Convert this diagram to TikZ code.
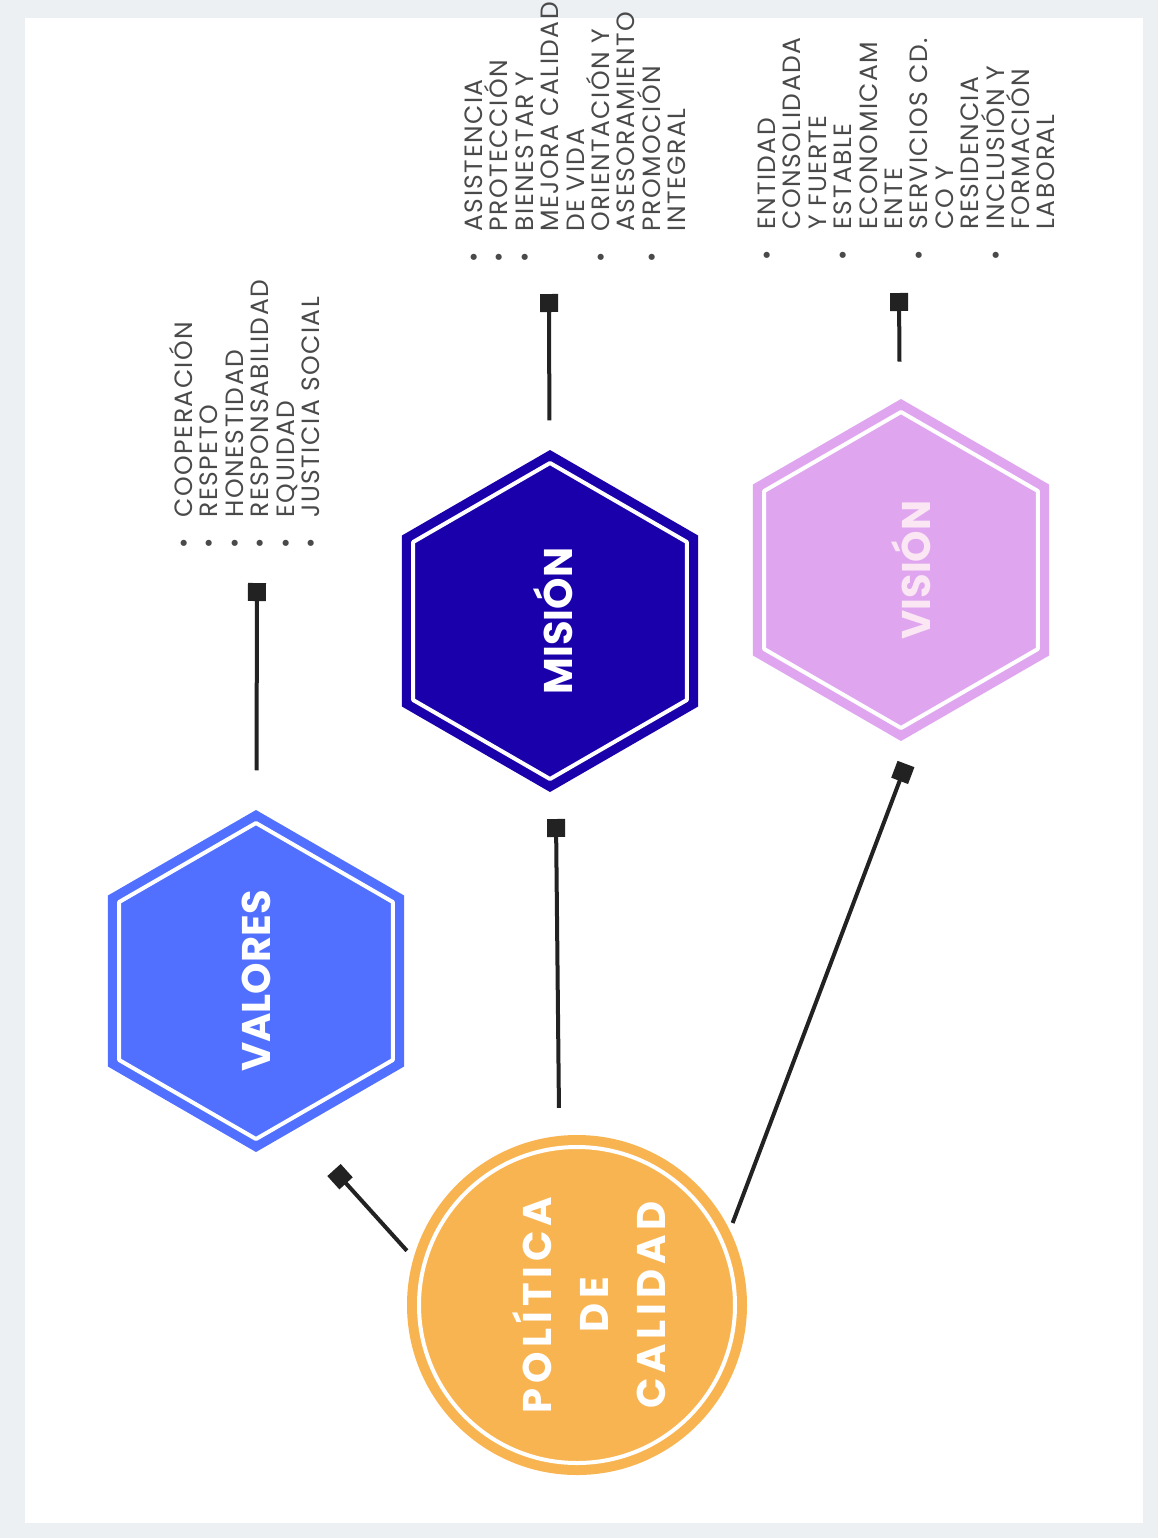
\documentclass[tikz,border=0pt]{standalone}
\usepackage{fontspec}
\setmainfont{Poppins}
\usetikzlibrary{shapes.geometric,arrows.meta}
\definecolor{azul}{HTML}{5170FF}
\definecolor{azuloscuro}{HTML}{1A00AB}
\definecolor{lila}{HTML}{DFA6EF}
\definecolor{rosado}{HTML}{FBE6F4}
\definecolor{naranja}{HTML}{F9B452}
\definecolor{gris}{HTML}{4A4A4A}
\definecolor{linea}{HTML}{222222}
\definecolor{marco}{HTML}{ECF0F3}
\newcommand{\bu}{\makebox[1.25em][l]{\textbullet}}
\newcommand{\nb}{\hspace*{1.25em}}
\newcommand{\alto}{\rule{0pt}{12pt}}
\begin{document}
\begin{tikzpicture}[x=0.5pt,y=-0.5pt,line join=round,
	hexa/.style={regular polygon,regular polygon sides=6,shape border rotate=90,minimum size=171pt,inner sep=0pt,outer sep=0pt},
	borde/.style={regular polygon,regular polygon sides=6,shape border rotate=90,minimum size=158pt,inner sep=0pt,draw=white,line width=2pt},
	titulo/.style={rotate=90,text=white,font=\bfseries\fontsize{20}{28.5}\selectfont,align=center,inner sep=0pt},
	lista/.style={rotate=90,anchor=north west,align=left,inner sep=0pt,text=gris,font=\fontsize{12.5}{12.7}\selectfont\addfontfeatures{LetterSpace=6}},
	conn/.style={draw=linea,line width=2pt,-{Square[length=9pt,width=9pt]}}]
	%Fondo.
	\fill[marco] (0,0) rectangle (1158,1538);
	\fill[white] (25,18) rectangle (1143,1523);
	%Puntos de las conexiones.
	\coordinate (valsq) at (257,583);
	\coordinate (missq) at (549,294);
	\coordinate (vissq) at (899,293);
	\coordinate (pvsq) at (334,1170);
	\coordinate (pmsq) at (556,819);
	\coordinate (pisq) at (906,764);
	%Hexágonos.
	\node[hexa,fill=azul] (val) at (256,981) {};
	\node[borde] at (val) {};
	\node[titulo] at (256,981) {VALORES};
	\node[hexa,fill=azuloscuro] (mis) at (550,621) {};
	\node[borde] at (mis) {};
	\node[titulo] at (553,621) {MISIÓN};
	\node[hexa,fill=lila] (vis) at (901,570) {};
	\node[borde] at (vis) {};
	\node[titulo,text=rosado] at (911,570) {VISIÓN};
	%Círculo central.
	\node[circle,fill=naranja,minimum size=170pt,inner sep=0pt,outer sep=0pt] (pol) at (577,1305) {};
	\node[circle,draw=white,line width=2pt,minimum size=158pt,inner sep=0pt] at (pol) {};
	\node[titulo,font=\bfseries\fontsize{20}{28.5}\selectfont\addfontfeatures{LetterSpace=12}] at (589,1305) {POLÍTICA\\DE\\CALIDAD};
	%Listas.
	\node[lista] (lval) at (168,549) {\alto\bu COOPERACIÓN\\\bu RESPETO\\\bu HONESTIDAD\\\bu RESPONSABILIDAD\\\bu EQUIDAD\\\bu JUSTICIA SOCIAL};
	\node[lista] (lmis) at (458,263) {\alto\bu ASISTENCIA\\\bu PROTECCIÓN\\\bu BIENESTAR Y\\\nb MEJORA CALIDAD\\\nb DE VIDA\\\bu ORIENTACIÓN Y\\\nb ASESORAMIENTO\\\bu PROMOCIÓN\\\nb INTEGRAL};
	\node[lista] (lvis) at (751,261) {\alto\bu ENTIDAD\\\nb CONSOLIDADA\\\nb Y FUERTE\\\bu ESTABLE\\\nb ECONOMICAM\\\nb ENTE\\\bu SERVICIOS CD.\\\nb CO Y\\\nb RESIDENCIA\\\bu INCLUSIÓN Y\\\nb FORMACIÓN\\\nb LABORAL};
	%Conexiones.
	\draw[conn,shorten <=20pt] (val) -- (valsq);
	\draw[conn,shorten <=15pt] (mis) -- (missq);
	\draw[conn,shorten <=19pt] (vis) -- (vissq);
	\draw[conn,shorten <=5pt] (pol.164) -- (pvsq);
	\draw[conn,shorten <=14pt] (pol.96) -- (pmsq);
	\draw[conn,shorten <=4pt] (pol.26) -- (pisq);
\end{tikzpicture}
\end{document}
